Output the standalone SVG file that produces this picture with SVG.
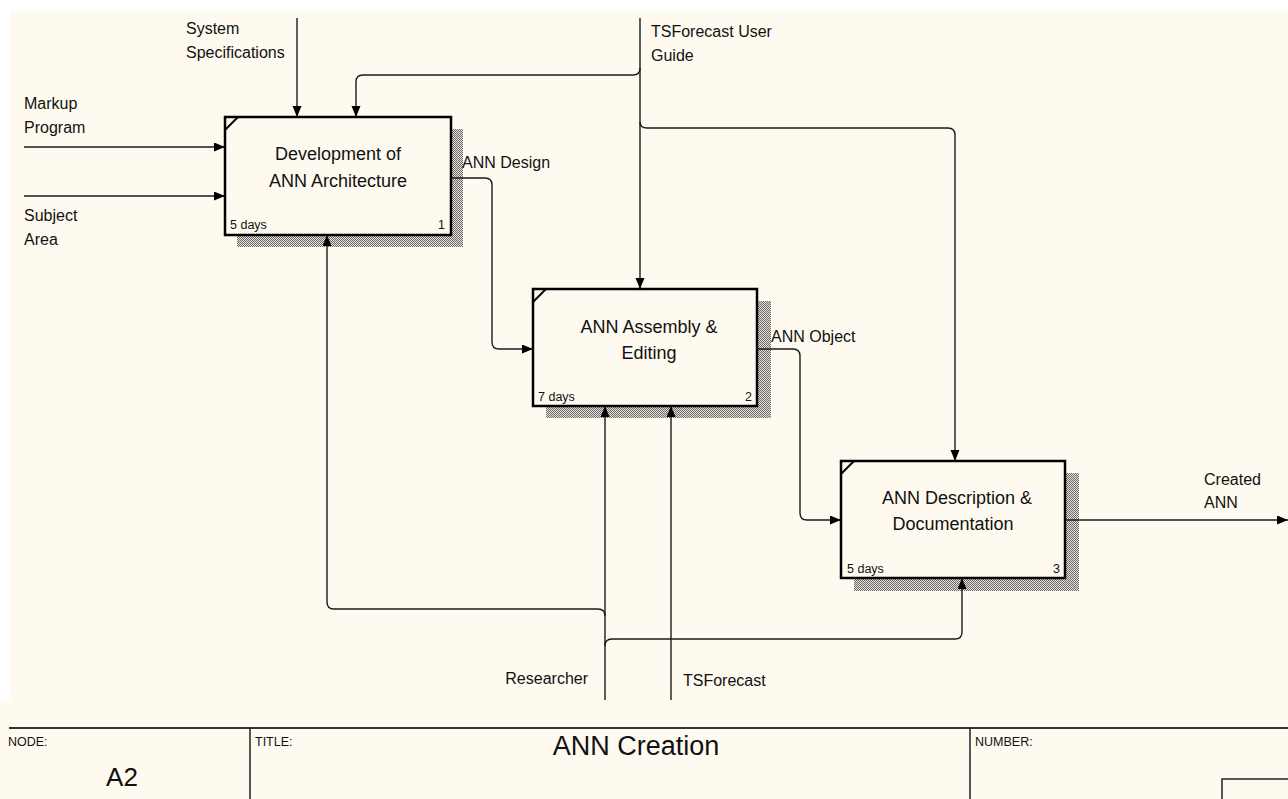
<svg xmlns="http://www.w3.org/2000/svg" width="1288" height="799" viewBox="0 0 1288 799">
<style>
.lbl{font-family:"Liberation Sans",Arial,sans-serif;font-size:16px;fill:#111}
.ttl{font-family:"Liberation Sans",Arial,sans-serif;font-size:18px;fill:#111;text-anchor:middle}
.sm{font-family:"Liberation Sans",Arial,sans-serif;font-size:12.5px;fill:#111}
.box{fill:#fefaef;stroke:#000;stroke-width:2.5}
.shd{fill:url(#hatch)}
.ln{fill:none;stroke:#1a1a1a;stroke-width:1.4}
.frm{fill:none;stroke:#333;stroke-width:2}
.fr1{fill:none;stroke:#222;stroke-width:1.5}
</style>
<defs>
<pattern id="hatch" patternUnits="userSpaceOnUse" width="2" height="2">
<rect width="2" height="2" fill="#e6e2d8"/>
<rect x="0" y="0" width="1" height="1" fill="#6a6a6a"/>
<rect x="1" y="1" width="1" height="1" fill="#6a6a6a"/>
</pattern>
<marker id="arr" markerUnits="userSpaceOnUse" markerWidth="12" markerHeight="10" refX="11" refY="4.5" orient="auto">
<path d="M0,0 L11,4.5 L0,9 z" fill="#000"/>
</marker>
</defs>
<rect x="0" y="0" width="1288" height="799" fill="#ffffff"/>
<rect x="10" y="11" width="1278" height="788" fill="#fefaef"/>
<rect x="0" y="700" width="10" height="99" fill="#fefaef"/>

<g id="node1">
<rect class="shd" x="451" y="129" width="12" height="118"/>
<rect class="shd" x="237" y="235" width="214" height="12"/>
<rect class="box" x="225" y="117" width="226" height="118"/>
<path d="M225,130 L238,117" stroke="#000" stroke-width="2" fill="none"/>
<text class="ttl" x="338" y="160">Development of</text>
<text class="ttl" x="338" y="187">ANN Architecture</text>
<text class="sm" x="230" y="229">5 days</text>
<text class="sm" x="445" y="229" text-anchor="end">1</text>
</g>

<g id="node2">
<rect class="shd" x="757" y="301" width="14" height="117"/>
<rect class="shd" x="546" y="406" width="211" height="12"/>
<rect class="box" x="533" y="289" width="224" height="117"/>
<path d="M533,302 L546,289" stroke="#000" stroke-width="2" fill="none"/>
<text class="ttl" x="649" y="333">ANN Assembly &amp;</text>
<text class="ttl" x="649" y="359">Editing</text>
<text class="sm" x="538" y="401">7 days</text>
<text class="sm" x="752" y="401" text-anchor="end">2</text>
</g>

<g id="node3">
<rect class="shd" x="1065" y="473" width="14" height="118"/>
<rect class="shd" x="854" y="578" width="211" height="13"/>
<rect class="box" x="841" y="461" width="224" height="117"/>
<path d="M841,474 L854,461" stroke="#000" stroke-width="2" fill="none"/>
<text class="ttl" x="957" y="504">ANN Description &amp;</text>
<text class="ttl" x="953" y="530">Documentation</text>
<text class="sm" x="847" y="573">5 days</text>
<text class="sm" x="1060" y="573" text-anchor="end">3</text>
</g>

<g id="connectors">
<path class="ln" d="M297,18 V117" marker-end="url(#arr)"/>
<path class="ln" d="M640,18 V289" marker-end="url(#arr)"/>
<path class="ln" d="M640,68 Q640,75 633,75 H363 Q356,75 356,82 V117" marker-end="url(#arr)"/>
<path class="ln" d="M640,122 Q640,128 647,128 H948 Q955,128 955,135 V461" marker-end="url(#arr)"/>
<path class="ln" d="M24,147 H225" marker-end="url(#arr)"/>
<path class="ln" d="M24,196 H225" marker-end="url(#arr)"/>
<path class="ln" d="M451,178 H485 Q492,178 492,185 V342 Q492,349 499,349 H533" marker-end="url(#arr)"/>
<path class="ln" d="M757,349 H793 Q800,349 800,356 V513 Q800,520 807,520 H841" marker-end="url(#arr)"/>
<path class="ln" d="M1065,520 H1288" marker-end="url(#arr)"/>
<path class="ln" d="M605,700 V406" marker-end="url(#arr)"/>
<path class="ln" d="M605,616 Q605,609 598,609 H334 Q327,609 327,602 V235" marker-end="url(#arr)"/>
<path class="ln" d="M605,646 Q605,639 612,639 H955 Q962,639 962,632 V578" marker-end="url(#arr)"/>
<path class="ln" d="M671,700 V406" marker-end="url(#arr)"/>
</g>

<g id="labels">
<text class="lbl" x="186" y="34">System</text>
<text class="lbl" x="186" y="58">Specifications</text>
<text class="lbl" x="651" y="37">TSForecast User</text>
<text class="lbl" x="651" y="61">Guide</text>
<text class="lbl" x="24" y="109">Markup</text>
<text class="lbl" x="24" y="133">Program</text>
<text class="lbl" x="24" y="221">Subject</text>
<text class="lbl" x="24" y="245">Area</text>
<text class="lbl" x="462" y="168">ANN Design</text>
<text class="lbl" x="771" y="342">ANN Object</text>
<text class="lbl" x="1204" y="485">Created</text>
<text class="lbl" x="1204" y="508">ANN</text>
<text class="lbl" x="588" y="684" text-anchor="end">Researcher</text>
<text class="lbl" x="683" y="686">TSForecast</text>
</g>

<g id="titleblock">
<path class="frm" d="M9,728 H1288"/>
<path class="fr1" d="M250,728 V799 M970,728 V799"/>
<path class="fr1" d="M1222,799 V779 H1288"/>
<text class="sm" x="8" y="746">NODE:</text>
<text x="122" y="786" font-family="Liberation Sans, Arial, sans-serif" font-size="26" fill="#111" text-anchor="middle">A2</text>
<text class="sm" x="255" y="746">TITLE:</text>
<text x="636" y="755" font-family="Liberation Sans, Arial, sans-serif" font-size="27" fill="#111" text-anchor="middle">ANN Creation</text>
<text class="sm" x="975" y="746">NUMBER:</text>
</g>
</svg>
